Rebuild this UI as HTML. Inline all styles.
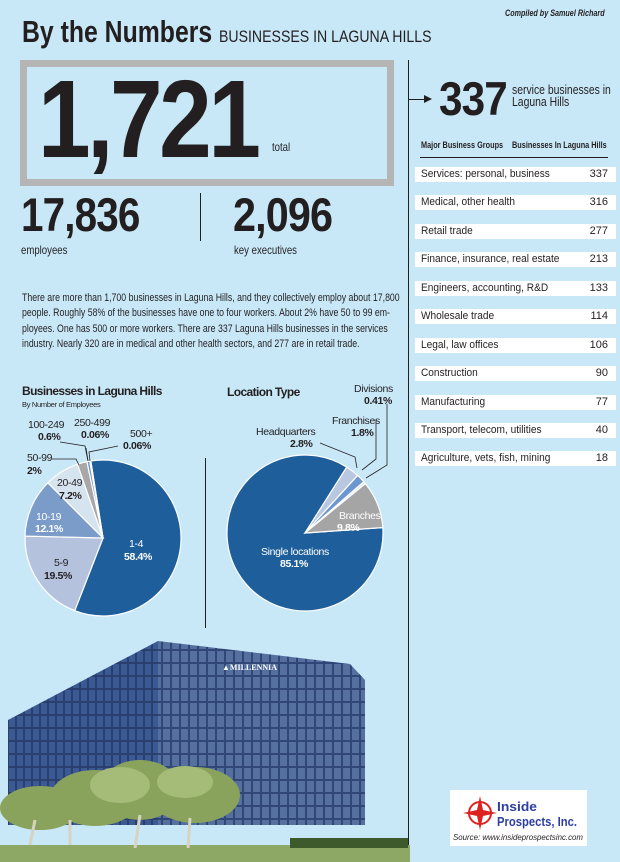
<!DOCTYPE html>
<html><head><meta charset="utf-8"><style>
body{margin:0;width:620px;height:862px;background:#c8e8f8;position:relative;overflow:hidden;font-family:"Liberation Sans",sans-serif;color:#231f20}
.a{position:absolute;white-space:nowrap;transform-origin:0 0}
.b{font-weight:bold}
.row{position:absolute;left:415px;width:201px;height:15px;background:#fff;font-size:11px;line-height:15px}
.row span{position:absolute;left:6px;transform:scaleX(0.92);transform-origin:0 0}.row i{position:absolute;right:8px;font-style:normal}
</style></head><body>
<div class="a" style="left:505px;top:8px;font-size:9px;font-style:italic;font-weight:bold;transform:scaleX(0.8)">Compiled by Samuel Richard</div>
<div class="a b" style="left:22px;top:14px;font-size:31px;transform:scaleX(0.8)">By the Numbers</div>
<div class="a" style="left:219px;top:27px;font-size:17px;transform:scaleX(0.83)">BUSINESSES IN LAGUNA HILLS</div>
<div class="a" style="left:20px;top:60px;width:360px;height:112px;border:7px solid #b5b5b5"></div>
<div class="a b" style="left:38px;top:65px;font-size:110px;line-height:110px;letter-spacing:-4px;transform:scaleX(0.86)">1,721</div>
<div class="a" style="left:272px;top:140px;font-size:12px;transform:scaleX(0.8)">total</div>
<div class="a b" style="left:21px;top:190px;font-size:47px;line-height:50px;letter-spacing:-1px;transform:scaleX(0.86)">17,836</div>
<div class="a" style="left:200px;top:193px;width:1px;height:48px;background:#231f20"></div>
<div class="a b" style="left:233px;top:190px;font-size:47px;line-height:50px;letter-spacing:-1px;transform:scaleX(0.88)">2,096</div>
<div class="a" style="left:21px;top:243px;font-size:12px;transform:scaleX(0.8)">employees</div>
<div class="a" style="left:234px;top:243px;font-size:12px;transform:scaleX(0.8)">key executives</div>
<div class="a" style="left:22px;top:291px;font-size:11.3px;line-height:15.3px;transform:scaleX(0.775)">There are more than 1,700 businesses in Laguna Hills, and they collectively employ about 17,800<br>people. Roughly 58% of the businesses have one to four workers. About 2% have 50 to 99 em-<br>ployees. One has 500 or more workers. There are 337 Laguna Hills businesses in the services<br>industry. Nearly 320 are in medical and other health sectors, and 277 are in retail trade.</div>
<div class="a" style="left:408px;top:60px;width:1px;height:802px;background:#231f20"></div>
<div class="a" style="left:205px;top:458px;width:1px;height:170px;background:#231f20"></div>
<div class="a" style="left:408px;top:99px;width:18px;height:1px;background:#231f20"></div>
<div class="a" style="left:424px;top:95px;border-left:8px solid #231f20;border-top:4px solid transparent;border-bottom:4px solid transparent"></div>
<div class="a b" style="left:439px;top:74px;font-size:47px;line-height:50px;letter-spacing:-1px;transform:scaleX(0.9)">337</div>
<div class="a" style="left:512px;top:84px;font-size:13px;line-height:12px;transform:scaleX(0.8)">service businesses in<br>Laguna Hills</div>
<div class="a b" style="left:421px;top:140px;font-size:9.5px;transform:scaleX(0.77)">Major Business Groups</div>
<div class="a b" style="left:512px;top:140px;font-size:9.5px;transform:scaleX(0.77)">Businesses In Laguna Hills</div>
<div class="a" style="left:420px;top:157px;width:188px;height:1px;background:#231f20"></div>
<div class="row" style="top:167px"><span>Services: personal, business</span><i>337</i></div>
<div class="row" style="top:195px"><span>Medical, other health</span><i>316</i></div>
<div class="row" style="top:224px"><span>Retail trade</span><i>277</i></div>
<div class="row" style="top:252px"><span>Finance, insurance, real estate</span><i>213</i></div>
<div class="row" style="top:281px"><span>Engineers, accounting, R&amp;D</span><i>133</i></div>
<div class="row" style="top:309px"><span>Wholesale trade</span><i>114</i></div>
<div class="row" style="top:338px"><span>Legal, law offices</span><i>106</i></div>
<div class="row" style="top:366px"><span>Construction</span><i>90</i></div>
<div class="row" style="top:395px"><span>Manufacturing</span><i>77</i></div>
<div class="row" style="top:423px"><span>Transport, telecom, utilities</span><i>40</i></div>
<div class="row" style="top:451px"><span>Agriculture, vets, fish, mining</span><i>18</i></div>

<svg class="a" style="left:0;top:0" width="620" height="862" font-family="Liberation Sans, sans-serif">
<g id="p1" stroke="#fff" stroke-width="1.2"></g>
<g id="p2" stroke="#fff" stroke-width="1.2"></g>
<g fill="none" stroke="#231f20" stroke-width="0.8">
<polyline points="52,459 76,459 79,465"/><polyline points="60,442 85,446 88,461"/><polyline points="86,448 88,461"/><polyline points="118,446 89,452 90,461"/>
<polyline points="320,443 355,457 357,468"/><polyline points="376,420 376,459 362,470"/><polyline points="387,404 387,465 366,478"/>
</g>
<g font-size="10.5" letter-spacing="-0.35" fill="#231f20">
<text x="22" y="395" font-weight="bold" font-size="12" letter-spacing="-0.6">Businesses in Laguna Hills</text>
<text x="22" y="407" font-size="7.5" letter-spacing="-0.3">By Number of Employees</text>
<text x="28" y="428">100-249</text><text x="38" y="440" font-weight="bold">0.6%</text>
<text x="74" y="426">250-499</text><text x="81" y="438" font-weight="bold">0.06%</text>
<text x="130" y="437">500+</text><text x="123" y="449" font-weight="bold">0.06%</text>
<text x="27" y="461">50-99</text><text x="27" y="474" font-weight="bold">2%</text>
<text x="57" y="486">20-49</text><text x="59" y="499" font-weight="bold">7.2%</text>
<text x="36" y="520" fill="#fff">10-19</text><text x="35" y="532" fill="#fff" font-weight="bold">12.1%</text>
<text x="54" y="566">5-9</text><text x="44" y="579" font-weight="bold">19.5%</text>
<text x="129" y="547" fill="#fff">1-4</text><text x="124" y="560" fill="#fff" font-weight="bold">58.4%</text>
<text x="227" y="396" font-weight="bold" font-size="12" letter-spacing="-0.6">Location Type</text>
<text x="354" y="392">Divisions</text><text x="364" y="404" font-weight="bold">0.41%</text>
<text x="332" y="424">Franchises</text><text x="351" y="436" font-weight="bold">1.8%</text>
<text x="256" y="435">Headquarters</text><text x="290" y="447" font-weight="bold">2.8%</text>
<text x="339" y="519" fill="#fff">Branches</text><text x="337" y="531" fill="#fff" font-weight="bold">9.8%</text>
<text x="261" y="555" fill="#fff">Single locations</text><text x="280" y="567" fill="#fff" font-weight="bold">85.1%</text>
</g>
<defs>
<pattern id="gl" width="8" height="13" patternUnits="userSpaceOnUse"><rect width="8" height="13" fill="#2a3f6e"/><rect x="1" y="1" width="6" height="11" fill="#3b5a94"/></pattern>
<pattern id="gr" width="9" height="13" patternUnits="userSpaceOnUse"><rect width="9" height="13" fill="#2f4677"/><rect x="1" y="1" width="7" height="11" fill="#55709f"/></pattern>
</defs>
<polygon points="8,720 158,641 158,825 8,825" fill="url(#gl)"/>
<polygon points="158,641 350,664 365,680 365,825 158,825" fill="url(#gr)"/>
<text x="222" y="670" font-size="8" fill="#fff" font-family="Liberation Serif,serif" font-weight="bold">▲MILLENNIA</text>
<rect x="0" y="845" width="410" height="17" fill="#8da864"/>
<rect x="290" y="838" width="118" height="10" fill="#3c5a2c"/>
<g fill="#8aa35c">
<ellipse cx="40" cy="808" rx="40" ry="22"/><ellipse cx="95" cy="798" rx="45" ry="28"/><ellipse cx="140" cy="790" rx="40" ry="30"/><ellipse cx="195" cy="795" rx="45" ry="28"/>
</g>
<g fill="#a5bb78"><ellipse cx="120" cy="785" rx="30" ry="18"/><ellipse cx="185" cy="782" rx="28" ry="16"/></g>
<g stroke="#d8d2c0" stroke-width="3"><line x1="30" y1="845" x2="35" y2="820"/><line x1="70" y1="845" x2="70" y2="820"/><line x1="135" y1="848" x2="140" y2="815"/><line x1="188" y1="848" x2="190" y2="818"/></g>
<rect x="450" y="790" width="137" height="56" fill="#fff"/>
<circle cx="480" cy="813" r="11" fill="none" stroke="#d22" stroke-width="2"/>
<polygon points="480,796 483,810 497,813 483,816 480,830 477,816 463,813 477,810" fill="#d22"/>
<text x="497" y="811" font-size="13" font-weight="bold" fill="#2d3fa0" textLength="40" lengthAdjust="spacingAndGlyphs">Inside</text>
<text x="497" y="826" font-size="13" font-weight="bold" fill="#2d3fa0" textLength="80" lengthAdjust="spacingAndGlyphs">Prospects, Inc.</text>
<text x="453" y="840" font-size="8" font-style="italic" fill="#231f20" textLength="130" lengthAdjust="spacingAndGlyphs">Source: www.insideprospectsinc.com</text>
</svg>
<script>
function pie(id,cx,cy,r,start,sl){var g=document.getElementById(id),a=start,s='';sl.forEach(function(d){var b=a+d[0]*3.6,ra=(a-90)*Math.PI/180,rb=(b-90)*Math.PI/180;
s+='<path fill="'+d[1]+'" d="M'+cx+','+cy+'L'+(cx+r*Math.cos(ra))+','+(cy+r*Math.sin(ra))+'A'+r+','+r+' 0 '+((b-a)>180?1:0)+' 1 '+(cx+r*Math.cos(rb))+','+(cy+r*Math.sin(rb))+'Z"/>';a=b;});g.innerHTML=s;}
pie('p1',103,538,78,-9,[[58.4,'#1e5f9b'],[19.5,'#b4c2de'],[12.1,'#7b9cc9'],[7.2,'#d6e4ef'],[2,'#a7a7a7'],[0.6,'#6f97cf'],[0.1,'#c8d4e6'],[0.1,'#1e5f9b']]);
pie('p2',305,533,78,86,[[85.1,'#1e5f9b'],[2.8,'#b9c7e0'],[1.8,'#6f97cf'],[0.5,'#dfe7f1'],[9.8,'#a5a5a5']]);
</script>
</body></html>
